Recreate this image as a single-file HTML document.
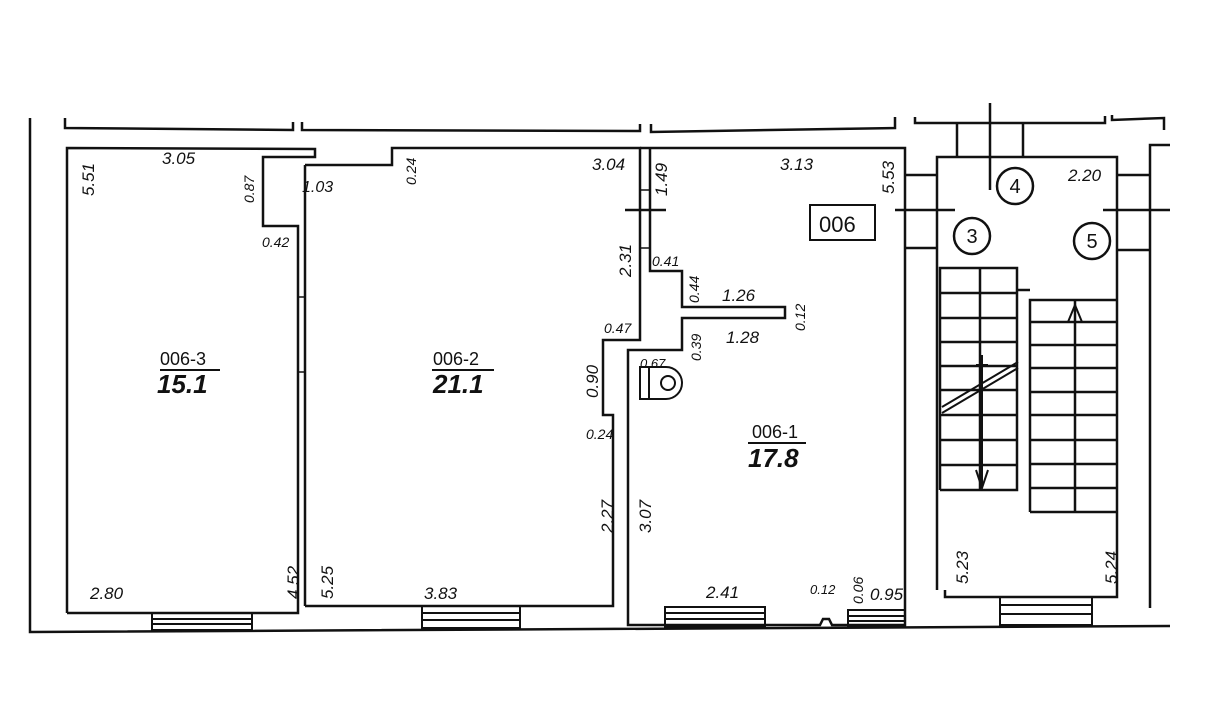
<!DOCTYPE html>
<html><head><meta charset="utf-8"><style>
html,body{margin:0;padding:0;background:#fff}
svg text{font-family:"Liberation Sans",sans-serif;font-style:italic;fill:#111}
</style></head><body>
<svg width="1209" height="721" viewBox="0 0 1209 721" xmlns="http://www.w3.org/2000/svg">
<g fill="none" stroke="#111" stroke-width="2.5">
<polyline points="30,118 30,632 1170,626"/>
<polyline points="65,118 65,128 293,130 293,122"/>
<polyline points="302,122 302,130 640,131 640,124"/>
<polyline points="651,124 651,132 895,128 895,117"/>
<polyline points="915,117 915,123 1105,123 1105,116"/>
<polyline points="1112,115 1112,120 1164,118 1164,130"/>
<polyline points="67,613 67,148 315,149 315,157 263,157 263,226 298,226 298,613 67,613"/>
<line x1="305" y1="165" x2="305" y2="606"/>
<line x1="298" y1="297" x2="305" y2="297" stroke-width="1.5"/>
<line x1="298" y1="372" x2="305" y2="372" stroke-width="1.5"/>
<polyline points="305,165 392,165 392,148 640,148 640,340 603,340 603,415 613,415 613,606 305,606"/>
<polyline points="650,148 650,271 682,271 682,307 785,307 785,318 682,318 682,350 628,350 628,625 820,625 823,619 829,619 832,625 905,625 905,148 650,148"/>
<line x1="640" y1="148" x2="650" y2="148"/>
<line x1="625" y1="210" x2="666" y2="210"/>
<line x1="640" y1="190" x2="650" y2="190" stroke-width="1.5"/>
<line x1="640" y1="248" x2="650" y2="248" stroke-width="1.5"/>
<path d="M640,367 H666 A16,16 0 0 1 666,399 H640 Z" stroke-width="2"/>
<line x1="649" y1="368" x2="649" y2="398" stroke-width="2"/>
<circle cx="668" cy="383" r="7" stroke-width="2"/>
<g stroke-width="2">
<rect x="152" y="613" width="100" height="17"/><line x1="152" y1="619" x2="252" y2="619"/><line x1="152" y1="624" x2="252" y2="624"/>
<rect x="422" y="606" width="98" height="22"/><line x1="422" y1="613" x2="520" y2="613"/><line x1="422" y1="620" x2="520" y2="620"/>
<rect x="665" y="625" width="100" height="3"/><rect x="665" y="607" width="100" height="20"/><line x1="665" y1="613" x2="765" y2="613"/><line x1="665" y1="619" x2="765" y2="619"/>
<rect x="848" y="610" width="57" height="16"/><line x1="848" y1="616" x2="905" y2="616"/><line x1="848" y1="621" x2="905" y2="621"/>
<rect x="1000" y="597" width="92" height="28"/><line x1="1000" y1="605" x2="1092" y2="605"/><line x1="1000" y1="614" x2="1092" y2="614"/>
</g>
<polyline points="937,590 937,157 1117,157 1117,597 945,597 945,590"/>
<line x1="905" y1="175" x2="937" y2="175"/>
<line x1="895" y1="210" x2="955" y2="210"/>
<line x1="905" y1="248" x2="937" y2="248"/>
<line x1="1117" y1="175" x2="1150" y2="175"/>
<line x1="1103" y1="210" x2="1170" y2="210"/>
<line x1="1117" y1="250" x2="1150" y2="250"/>
<polyline points="1170,145 1150,145 1150,608"/>
<line x1="957" y1="123" x2="957" y2="157"/>
<line x1="1023" y1="123" x2="1023" y2="157"/>
<line x1="990" y1="103" x2="990" y2="190"/>
<circle cx="1015" cy="186" r="18"/>
<circle cx="972" cy="236" r="18"/>
<circle cx="1092" cy="241" r="18"/>
<polyline points="940,490 940,268 1017,268 1017,490 940,490"/>
<line x1="980" y1="268" x2="980" y2="490"/>
<line x1="940" y1="293" x2="1017" y2="293"/>
<line x1="940" y1="318" x2="1017" y2="318"/>
<line x1="940" y1="342" x2="1017" y2="342"/>
<line x1="940" y1="366" x2="1017" y2="366"/>
<line x1="940" y1="390" x2="1017" y2="390"/>
<line x1="940" y1="415" x2="1017" y2="415"/>
<line x1="940" y1="440" x2="1017" y2="440"/>
<line x1="940" y1="465" x2="1017" y2="465"/>
<polyline points="1030,512 1030,300 1117,300"/>
<line x1="1030" y1="512" x2="1117" y2="512"/>
<line x1="1075" y1="300" x2="1075" y2="512"/>
<line x1="1030" y1="322" x2="1117" y2="322"/>
<line x1="1030" y1="345" x2="1117" y2="345"/>
<line x1="1030" y1="368" x2="1117" y2="368"/>
<line x1="1030" y1="392" x2="1117" y2="392"/>
<line x1="1030" y1="415" x2="1117" y2="415"/>
<line x1="1030" y1="440" x2="1117" y2="440"/>
<line x1="1030" y1="464" x2="1117" y2="464"/>
<line x1="1030" y1="488" x2="1117" y2="488"/>
<line x1="1017" y1="290" x2="1030" y2="290"/>
<g stroke-width="2">
<polyline points="1068,322 1075,305 1082,322"/>
<line x1="982" y1="355" x2="982" y2="488"/>
<polyline points="976,470 982,488 988,470"/>
<line x1="976" y1="365" x2="988" y2="365"/>
<line x1="942" y1="407" x2="1018" y2="362"/>
<line x1="942" y1="413" x2="1018" y2="368"/>
</g>
<rect x="810" y="205" width="65" height="35" stroke-width="2"/>
<line x1="160" y1="370" x2="220" y2="370" stroke-width="2"/>
<line x1="432" y1="370" x2="494" y2="370" stroke-width="2"/>
<line x1="748" y1="443" x2="806" y2="443" stroke-width="2"/>
</g>
<g font-size="18">
<text x="160" y="365" style="font-style:normal">006-3</text>
<text x="433" y="365" style="font-style:normal">006-2</text>
<text x="752" y="438" style="font-style:normal">006-1</text>
</g>
<g font-size="26" font-weight="bold">
<text x="157" y="393">15.1</text>
<text x="433" y="393">21.1</text>
<text x="748" y="467">17.8</text>
</g>
<text x="819" y="232" font-size="22" style="font-style:normal">006</text>
<g font-size="20" text-anchor="middle">
<text x="1015" y="193" style="font-style:normal">4</text>
<text x="972" y="243" style="font-style:normal">3</text>
<text x="1092" y="248" style="font-style:normal">5</text>
</g>
<g font-size="17">
<text x="162" y="164">3.05</text>
<text x="302" y="192" font-size="16">1.03</text>
<text x="592" y="170">3.04</text>
<text x="780" y="170">3.13</text>
<text x="1068" y="181">2.20</text>
<text x="262" y="247" font-size="14">0.42</text>
<text x="652" y="266" font-size="14">0.41</text>
<text x="722" y="301">1.26</text>
<text x="726" y="343">1.28</text>
<text x="604" y="333" font-size="14">0.47</text>
<text x="640" y="368" font-size="13">0.67</text>
<text x="586" y="439" font-size="14">0.24</text>
<text x="90" y="599">2.80</text>
<text x="424" y="599">3.83</text>
<text x="706" y="598">2.41</text>
<text x="810" y="594" font-size="13">0.12</text>
<text x="870" y="600">0.95</text>
</g>
<g font-size="17">
<text transform="translate(94,196) rotate(-90)">5.51</text>
<text transform="translate(254,203) rotate(-90)" font-size="14">0.87</text>
<text transform="translate(416,185) rotate(-90)" font-size="14">0.24</text>
<text transform="translate(631,277) rotate(-90)">2.31</text>
<text transform="translate(667,196) rotate(-90)">1.49</text>
<text transform="translate(699,303) rotate(-90)" font-size="14">0.44</text>
<text transform="translate(805,331) rotate(-90)" font-size="14">0.12</text>
<text transform="translate(701,361) rotate(-90)" font-size="14">0.39</text>
<text transform="translate(598,398) rotate(-90)">0.90</text>
<text transform="translate(894,194) rotate(-90)">5.53</text>
<text transform="translate(299,599) rotate(-90)">4.52</text>
<text transform="translate(333,599) rotate(-90)">5.25</text>
<text transform="translate(613,533) rotate(-90)">2.27</text>
<text transform="translate(651,533) rotate(-90)">3.07</text>
<text transform="translate(863,604) rotate(-90)" font-size="14">0.06</text>
<text transform="translate(968,584) rotate(-90)">5.23</text>
<text transform="translate(1117,584) rotate(-90)">5.24</text>
</g>
</svg>
</body></html>
